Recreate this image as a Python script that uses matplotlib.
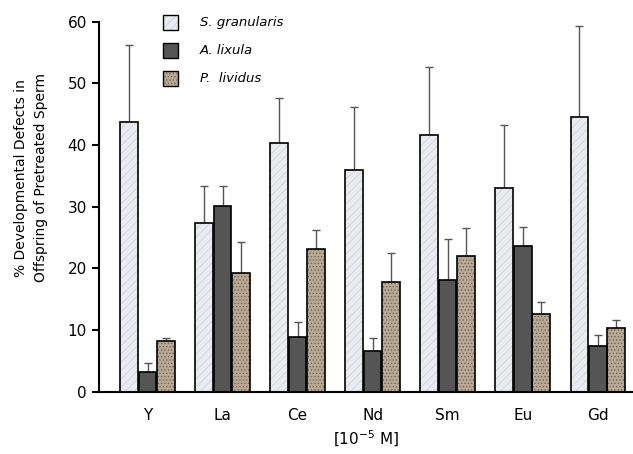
import numpy as np
import matplotlib.pyplot as plt
from matplotlib.patches import Rectangle

# Metals tested and species
metals = ['Y', 'La', 'Ce', 'Nd', 'Sm', 'Eu', 'Gd']
species = ['S. granularis', 'A. lixula', 'P.  lividus']

# Mean % developmental defects per metal
s_gran = [43.8, 27.4, 40.3, 35.9, 41.7, 33.0, 44.6]
a_lixula = [3.2, 30.1, 8.9, 6.6, 18.1, 23.6, 7.5]
p_lividus = [8.2, 19.2, 23.2, 17.8, 22.0, 12.6, 10.3]

# Upper error (SD)
s_gran_err = [12.4, 5.9, 7.4, 10.3, 11.0, 10.2, 14.7]
a_lixula_err = [1.5, 3.2, 2.4, 2.2, 6.7, 3.2, 1.7]
p_lividus_err = [0.5, 5.1, 3.1, 4.7, 4.5, 1.9, 1.3]

means = [s_gran, a_lixula, p_lividus]
errs = [s_gran_err, a_lixula_err, p_lividus_err]
fills = ['#e9ebee', '#555555', '#b8a995']
hatches = ['////', None, '.....']
hatch_cols = ['#cdd0d4', None, '#6e5e4e']

plt.rcParams['hatch.linewidth'] = 0.5

fig = plt.figure(figsize=(6.33, 4.54), dpi=100)
ax = fig.add_axes([0.156, 0.137, 0.844, 0.815])

x = np.arange(len(metals))
width = 0.235
step = 0.245

for i in range(3):
    pos = x + (i - 1) * step
    if hatches[i]:
        ax.bar(pos, means[i], width, color=fills[i], hatch=hatches[i],
               edgecolor=hatch_cols[i], linewidth=0, zorder=2)
    else:
        ax.bar(pos, means[i], width, color=fills[i], linewidth=0, zorder=2)
    ax.bar(pos, means[i], width, fill=False, edgecolor='black',
           linewidth=1.2, zorder=3)
    ax.errorbar(pos, means[i], yerr=[np.zeros(len(metals)), errs[i]],
                fmt='none', ecolor='#555555', elinewidth=1, capsize=3,
                capthick=1, zorder=1)

# legend drawn by hand as squares + italic text
for i in range(3):
    yy = 59.9 - i * 4.55
    ax.add_patch(Rectangle((0.21, yy - 1.2), 0.2, 2.4, facecolor=fills[i],
                           hatch=hatches[i],
                           edgecolor=hatch_cols[i] or fills[i],
                           linewidth=0, zorder=4, clip_on=False))
    ax.add_patch(Rectangle((0.21, yy - 1.2), 0.2, 2.4, fill=False,
                           edgecolor='black', linewidth=1, zorder=5,
                           clip_on=False))
    ax.text(0.7, yy, species[i], style='italic', fontsize=9.5,
            va='center', ha='left')

ax.set_xlim(-0.65, 6.47)
ax.set_ylim(0, 60)
ax.set_yticks(range(0, 61, 10))
ax.set_xticks(x)
ax.set_xticklabels(metals, fontsize=11)
ax.tick_params(axis='y', labelsize=11, direction='out', length=5, width=1.5)
ax.tick_params(axis='x', length=0, pad=12)
for side in ['top', 'right']:
    ax.spines[side].set_visible(False)
for side in ['left', 'bottom']:
    ax.spines[side].set_linewidth(1.5)

ax.set_ylabel('% Developmental Defects in\nOffspring of Pretreated Sperm',
              fontsize=10, linespacing=1.5)
ax.yaxis.set_label_coords(-0.095, 0.578)
ax.set_xlabel('[10$^{-5}$ M]', fontsize=11, labelpad=4)

fig.savefig('out.png', dpi=100)
